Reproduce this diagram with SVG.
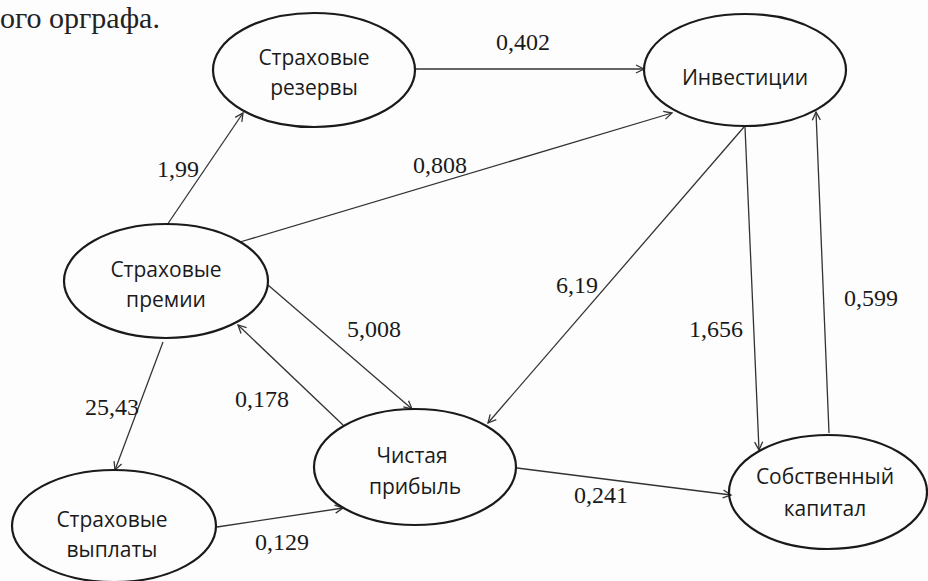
<svg xmlns="http://www.w3.org/2000/svg" width="928" height="581" viewBox="0 0 928 581">
<defs>
<marker id="arr" markerUnits="userSpaceOnUse" markerWidth="12" markerHeight="12" refX="9" refY="5" orient="auto">
<path d="M1,1 L9,5 L1,9" fill="none" stroke="#333" stroke-width="1.3"/>
</marker>
<style>
.node ellipse{fill:none;stroke:#1a1a1a;stroke-width:2.2}
.node text{font-family:"Open Sans","Noto Sans",sans-serif;font-size:21px;fill:#1a1a1a;text-anchor:middle}
.edges line{stroke:#333;stroke-width:1.3;fill:none}
.lbl{font-family:"Liberation Serif","Times New Roman",serif;font-size:24px;fill:#1a1a1a}
</style>
</defs>
<rect width="928" height="581" fill="#fdfdfd"/>
<text x="0" y="28" font-family="Liberation Serif, serif" font-size="30" fill="#222">ого орграфа.</text>
<g class="edges">
<line x1="415" y1="69" x2="644" y2="69" marker-end="url(#arr)"/>
<line x1="167" y1="225" x2="243" y2="113" marker-end="url(#arr)"/>
<line x1="240" y1="242" x2="672" y2="113" marker-end="url(#arr)"/>
<line x1="268" y1="285" x2="412" y2="409" marker-end="url(#arr)"/>
<line x1="343" y1="425" x2="238" y2="325" marker-end="url(#arr)"/>
<line x1="163" y1="342" x2="115" y2="470" marker-end="url(#arr)"/>
<line x1="217" y1="527" x2="343" y2="508" marker-end="url(#arr)"/>
<line x1="744" y1="127" x2="488" y2="423" marker-end="url(#arr)"/>
<line x1="745" y1="127" x2="759" y2="450" marker-end="url(#arr)"/>
<line x1="829" y1="433" x2="816" y2="112" marker-end="url(#arr)"/>
<line x1="517" y1="468" x2="731" y2="495" marker-end="url(#arr)"/>
<text class="lbl" x="496" y="50">0,402</text>
<text class="lbl" x="157" y="177">1,99</text>
<text class="lbl" x="413" y="173">0,808</text>
<text class="lbl" x="347" y="337">5,008</text>
<text class="lbl" x="235" y="407">0,178</text>
<text class="lbl" x="85" y="415">25,43</text>
<text class="lbl" x="556" y="293">6,19</text>
<text class="lbl" x="689" y="337">1,656</text>
<text class="lbl" x="844" y="306">0,599</text>
<text class="lbl" x="574" y="503">0,241</text>
<text class="lbl" x="255" y="550">0,129</text>
</g>
<g id="reserves" class="node">
<ellipse cx="314" cy="70" rx="101" ry="57"/>
<text x="314" y="65">Страховые</text>
<text x="314" y="95">резервы</text>
</g>
<g id="investments" class="node">
<ellipse cx="745" cy="70" rx="101" ry="56"/>
<text x="745" y="85">Инвестиции</text>
</g>
<g id="premiums" class="node">
<ellipse cx="166" cy="281" rx="102" ry="57"/>
<text x="166" y="277">Страховые</text>
<text x="166" y="307">премии</text>
</g>
<g id="profit" class="node">
<ellipse cx="415" cy="467" rx="101" ry="58"/>
<text x="412" y="463">Чистая</text>
<text x="415" y="494">прибыль</text>
</g>
<g id="payments" class="node">
<ellipse cx="114" cy="526" rx="102" ry="56"/>
<text x="112" y="527">Страховые</text>
<text x="112" y="557">выплаты</text>
</g>
<g id="equity" class="node">
<ellipse cx="828" cy="492" rx="99" ry="57"/>
<text x="825" y="484">Собственный</text>
<text x="825" y="516">капитал</text>
</g>
</svg>
